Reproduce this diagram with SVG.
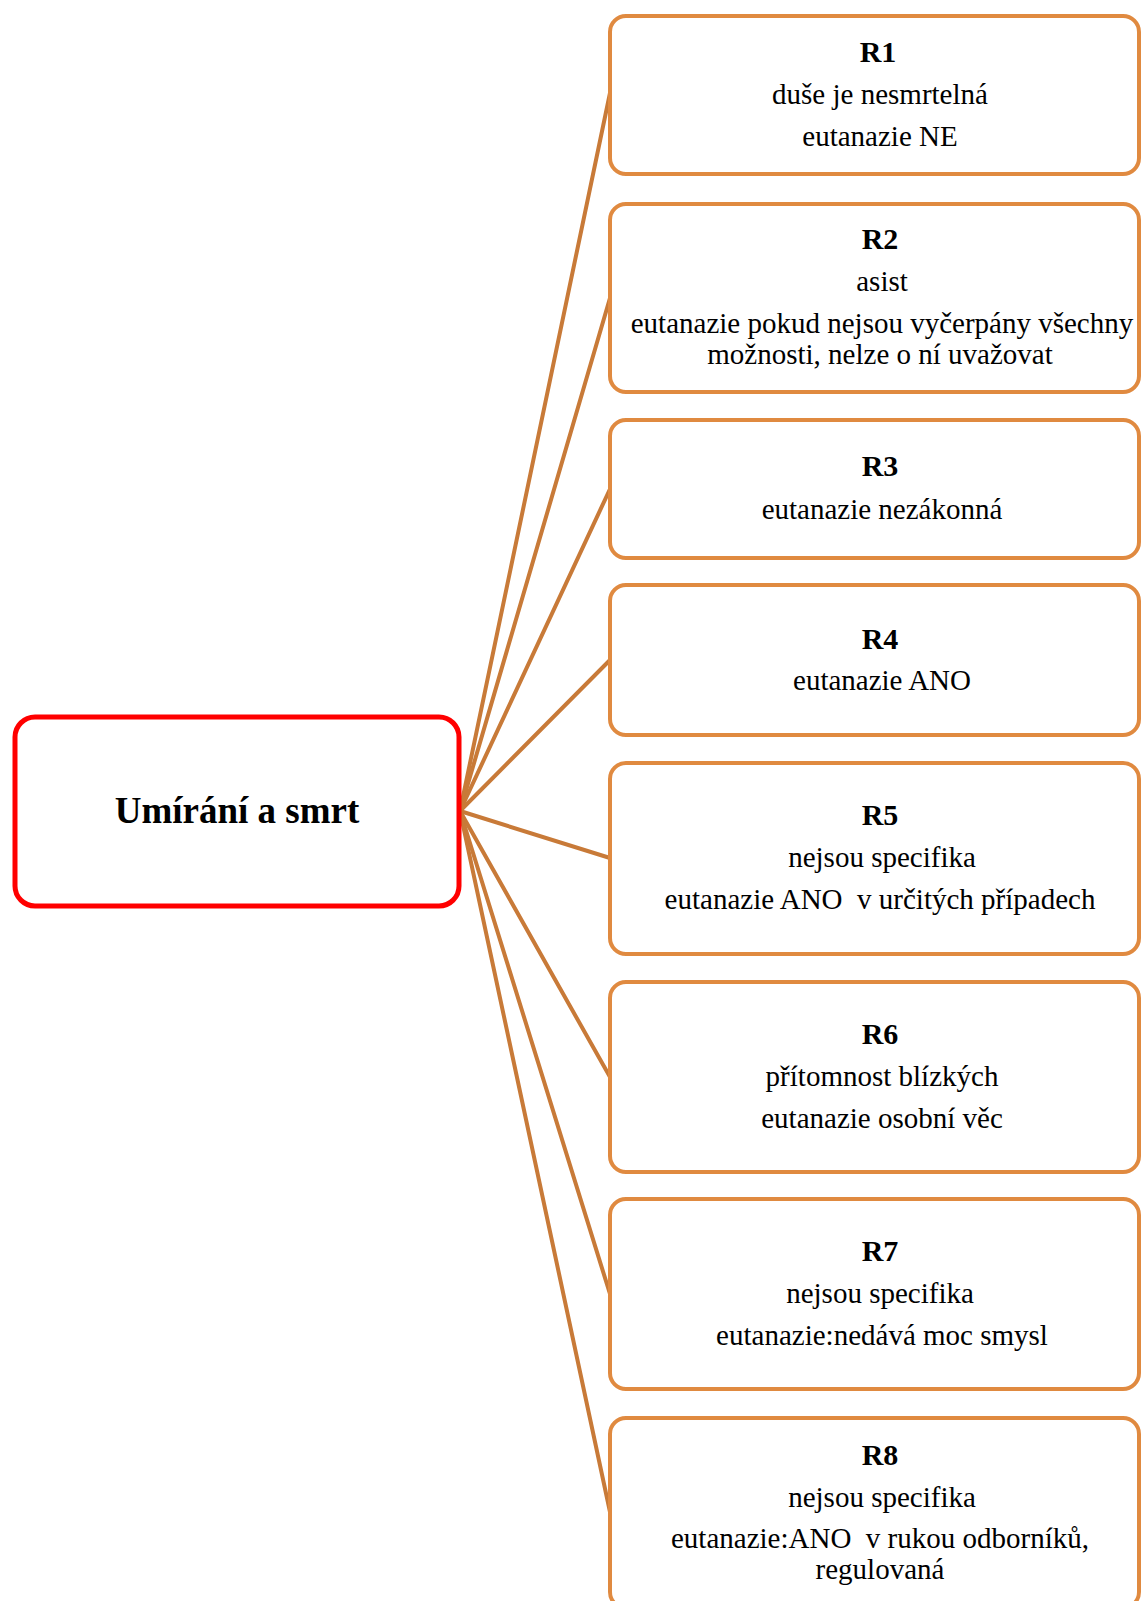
<svg xmlns="http://www.w3.org/2000/svg" width="1143" height="1601" viewBox="0 0 1143 1601">
<style>
.box{fill:#fff;stroke:#E08A40;stroke-width:4}
.main{fill:#fff;stroke:#FF0000;stroke-width:5}
.ln{stroke:#C87A38;stroke-width:4;fill:none;stroke-linecap:round}
text{font-family:"Liberation Serif","Times New Roman",serif;fill:#000;text-anchor:middle;white-space:pre}
.h{font-weight:bold;font-size:30px}
.t{font-size:29px}
.c{font-weight:bold;font-size:37px}
</style>
<rect width="1143" height="1601" fill="#fff"/>
<g id="connectors">
<line class="ln" x1="460" y1="811" x2="610" y2="93"/>
<line class="ln" x1="460" y1="811" x2="610" y2="298"/>
<line class="ln" x1="460" y1="811" x2="610" y2="489"/>
<line class="ln" x1="460" y1="811" x2="610" y2="660"/>
<line class="ln" x1="460" y1="811" x2="610" y2="858"/>
<line class="ln" x1="460" y1="811" x2="610" y2="1077"/>
<line class="ln" x1="460" y1="811" x2="610" y2="1294"/>
<line class="ln" x1="460" y1="811" x2="610" y2="1512"/>
</g>
<g id="center">
<rect class="main" x="15" y="717" width="444" height="189" rx="20"/>
<text class="c" x="237" y="823">Umírání a smrt</text>
</g>
<g id="R1">
<rect class="box" x="610" y="16" width="529" height="158" rx="16"/>
<text class="h" x="878" y="62">R1</text>
<text class="t" x="880" y="104">duše je nesmrtelná</text>
<text class="t" x="880" y="146">eutanazie NE</text>
</g>
<g id="R2">
<rect class="box" x="610" y="204" width="529" height="188" rx="16"/>
<text class="h" x="880" y="249">R2</text>
<text class="t" x="882" y="291">asist</text>
<text class="t" x="882" y="333">eutanazie pokud nejsou vyčerpány všechny</text>
<text class="t" x="880" y="364">možnosti, nelze o ní uvažovat</text>
</g>
<g id="R3">
<rect class="box" x="610" y="420" width="529" height="138" rx="16"/>
<text class="h" x="880" y="476">R3</text>
<text class="t" x="882" y="519">eutanazie nezákonná</text>
</g>
<g id="R4">
<rect class="box" x="610" y="585" width="529" height="150" rx="16"/>
<text class="h" x="880" y="649">R4</text>
<text class="t" x="882" y="690">eutanazie ANO</text>
</g>
<g id="R5">
<rect class="box" x="610" y="763" width="529" height="191" rx="16"/>
<text class="h" x="880" y="825">R5</text>
<text class="t" x="882" y="867">nejsou specifika</text>
<text class="t" x="880" y="909">eutanazie ANO  v určitých případech</text>
</g>
<g id="R6">
<rect class="box" x="610" y="982" width="529" height="190" rx="16"/>
<text class="h" x="880" y="1044">R6</text>
<text class="t" x="882" y="1086">přítomnost blízkých</text>
<text class="t" x="882" y="1128">eutanazie osobní věc</text>
</g>
<g id="R7">
<rect class="box" x="610" y="1199" width="529" height="190" rx="16"/>
<text class="h" x="880" y="1261">R7</text>
<text class="t" x="880" y="1303">nejsou specifika</text>
<text class="t" x="882" y="1345">eutanazie:nedává moc smysl</text>
</g>
<g id="R8">
<rect class="box" x="610" y="1418" width="529" height="190" rx="16"/>
<text class="h" x="880" y="1465">R8</text>
<text class="t" x="882" y="1507">nejsou specifika</text>
<text class="t" x="880" y="1548">eutanazie:ANO  v rukou odborníků,</text>
<text class="t" x="880" y="1579">regulovaná</text>
</g>
</svg>
